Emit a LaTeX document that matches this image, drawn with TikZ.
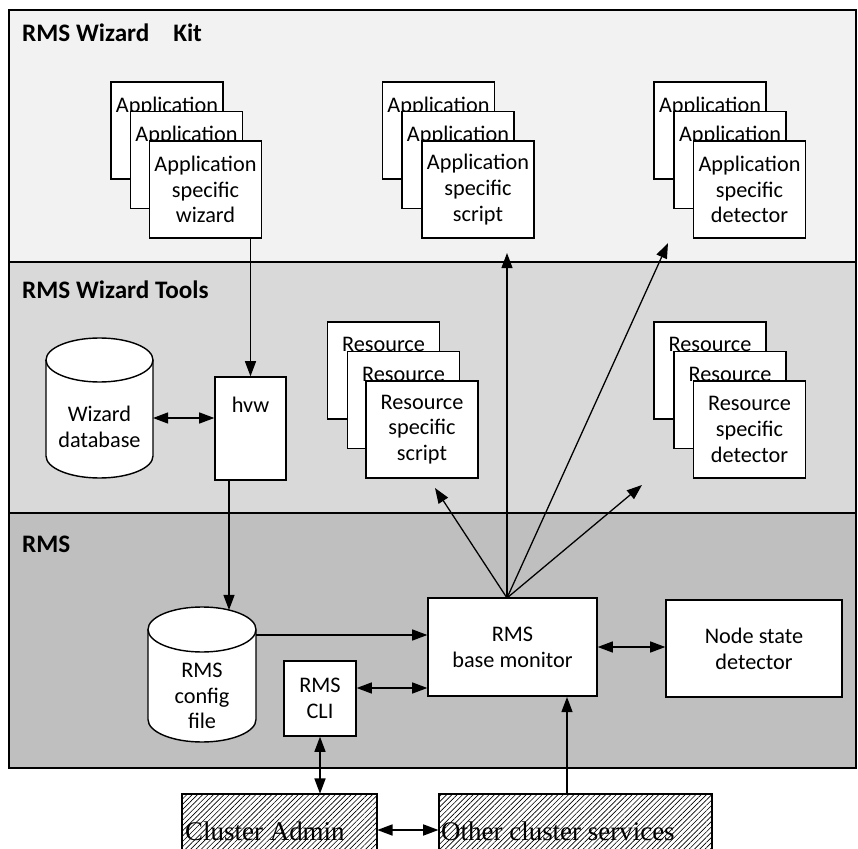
\documentclass[tikz,border=0pt]{standalone}
\usepackage{fontspec}
\setmainfont{Carlito}
\newfontfamily\hatchfont{Liberation Serif}
\usetikzlibrary{arrows.meta,patterns.meta,calc}
\definecolor{bandA}{HTML}{F2F2F2}
\definecolor{bandB}{HTML}{D9D9D9}
\definecolor{bandC}{HTML}{BFBFBF}
\newcommand{\backtext}[1]{#1\\\phantom{specific}\\\phantom{detector}}
\begin{document}
\begin{tikzpicture}[x=0.03cm,y=-0.03cm,
  card/.style={draw, fill=white, line width=1.2pt, minimum width=3.36cm, minimum height=2.91cm, align=center, inner sep=0pt, font=\fontsize{19}{22}\selectfont},
  plainbox/.style={draw, fill=white, line width=1.2pt, align=center, inner sep=0pt, font=\fontsize{19}{22}\selectfont},
  txt/.style={align=center, inner sep=0pt, font=\fontsize{19}{22}\selectfont},
  arr/.style={line width=1.1pt, -{Triangle[length=13pt,width=9.5pt]}},
  darr/.style={line width=1.1pt, {Triangle[length=13pt,width=9.5pt]}-{Triangle[length=13pt,width=9.5pt]}},
  bandbox/.style={draw, line width=1.2pt},
  lbl/.style={anchor=base west, font=\bfseries\fontsize{21.5}{24}\selectfont, inner sep=0pt},
  cyl/.style={draw, fill=white, line width=1.2pt},
  hatchbox/.style={draw, line width=1pt, inner sep=0pt, pattern={Lines[angle=45,distance=3.2pt,line width=0.55pt]}},
  htxt/.style={anchor=west, inner sep=0pt, font=\hatchfont\fontsize{23}{26}\selectfont}
]
\useasboundingbox (0,0) rectangle (858,849);

% bands
\path[bandbox, fill=bandA] (9,10) rectangle (856,262);
\path[bandbox, fill=bandB] (9,262) rectangle (856,513);
\path[bandbox, fill=bandC] (9,513) rectangle (856,768);

\node[lbl] (kitl) at (22,42) {RMS Wizard\hspace{0.95em}Kit};
\node[lbl] (tooll) at (22,299) {RMS Wizard Tools};
\node[lbl] (rmsl) at (22,552) {RMS};

% application stacks
\node[card] (a11) at (167,130.5) {\backtext{Application}};
\node[card] (a12) at (186.5,160) {\backtext{Application}};
\node[card] (a13) at (205.5,189.5) {Application\\specific\\wizard};

\node[card] (a21) at (438.5,130.5) {\backtext{Application}};
\node[card] (a22) at (458,160) {\backtext{Application}};
\node[card] (a23) at (478,189.5) {Application\\specific\\script};

\node[card] (a31) at (710,130.5) {\backtext{Application}};
\node[card] (a32) at (730,160) {\backtext{Application}};
\node[card] (a33) at (749.5,189.5) {Application\\specific\\detector};

% resource stacks
\node[card] (r11) at (383.5,370.5) {\backtext{Resource}};
\node[card] (r12) at (403.5,400) {\backtext{Resource}};
\node[card] (r13) at (422,429.5) {Resource\\specific\\script};

\node[card] (r21) at (710,370.5) {\backtext{Resource}};
\node[card] (r22) at (730,400) {\backtext{Resource}};
\node[card] (r23) at (749.5,429.5) {Resource\\specific\\detector};

% wizard database cylinder
\path[cyl] (46,360) -- (46,456) arc[start angle=180,end angle=360,x radius=1.605cm,y radius=0.66cm]
  -- (153,360) arc[start angle=0,end angle=180,x radius=1.605cm,y radius=0.66cm] -- cycle;
\draw[line width=1.2pt] (46,360) arc[start angle=180,end angle=360,x radius=1.605cm,y radius=0.66cm];
\node[txt, minimum width=3.2cm] (wdb) at (99.5,427) {Wizard\\database};

% hvw
\node[plainbox, minimum width=2.13cm, minimum height=3.09cm] (hvw) at (250.5,428.5) {};
\node[txt] (hvwt) at (250.5,405) {hvw};

% RMS config cylinder
\path[cyl] (148,629.5) -- (148,719.5) arc[start angle=180,end angle=360,x radius=1.62cm,y radius=0.675cm]
  -- (256,629.5) arc[start angle=0,end angle=180,x radius=1.62cm,y radius=0.675cm] -- cycle;
\draw[line width=1.2pt] (148,629.5) arc[start angle=180,end angle=360,x radius=1.62cm,y radius=0.675cm];
\node[txt] (cfg) at (202,696) {RMS\\config\\file};

% RMS boxes
\node[plainbox, minimum width=2.16cm, minimum height=2.25cm] (cli) at (320,698.5) {RMS\\CLI};
\node[plainbox, minimum width=5.07cm, minimum height=2.94cm] (bm) at (512.5,647) {RMS\\base monitor};
\node[plainbox, minimum width=5.28cm, minimum height=2.91cm] (nsd) at (754,648.5) {Node state\\detector};

% external boxes
\node[hatchbox, minimum width=5.85cm, minimum height=1.86cm] (adm) at (279.5,825) {};
\node[htxt] (admt) at (185,831) {Cluster Admin};
\node[hatchbox, minimum width=8.19cm, minimum height=1.86cm] (oth) at (575.5,825) {};
\node[htxt] (otht) at (441,831) {Other cluster services};

% coordinates
\coordinate (cfgtop) at (229,610);
\coordinate (cfgr) at (256,635);
\coordinate (ycli) at (0,688);
\coordinate (bmtop) at (507,598);
\coordinate (t1) at (507,253);
\coordinate (t2) at (668,243);
\coordinate (t3) at (435,488);
\coordinate (t4) at (642,485);
\coordinate (obase) at (567,697);
\coordinate (yao) at (0,830);
\coordinate (ydb) at (0,418);

% connectors
\draw[arr] (a13.south -| hvw.north) -- (hvw.north);
\draw[darr] (153,418) -- (hvw.west |- ydb);
\draw[arr] (hvw.south -| cfgtop) -- (cfgtop);
\draw[arr] (cfgr) -- (cfgr -| bm.west);
\draw[darr] (cli.east |- ycli) -- (bm.west |- ycli);
\draw[darr] (bm.east) -- (bm.east -| nsd.west);
\draw[arr] (bmtop) -- (t1);
\draw[arr] (bmtop) -- (t2);
\draw[arr] (bmtop) -- (t3);
\draw[arr] (bmtop) -- (t4);
\draw[arr] (obase |- oth.north) -- (obase);
\draw[darr] (cli.south) -- (cli.south |- adm.north);
\draw[darr] (adm.east |- yao) -- (oth.west |- yao);
\end{tikzpicture}
\end{document}
